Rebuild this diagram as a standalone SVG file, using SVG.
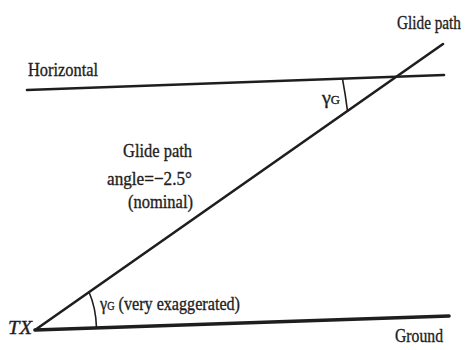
<svg xmlns="http://www.w3.org/2000/svg" width="473" height="350" viewBox="0 0 473 350">
<style>
.ln{stroke:#1e1e1e;fill:none;stroke-linecap:round}
.t{font-family:"Liberation Serif","Times New Roman",serif;fill:#1e1e1e;stroke:#1e1e1e;stroke-width:0.35;font-size:19px}
.s{font-size:12px}
</style>
<rect width="473" height="350" fill="#fff"/>
<g id="connectors">
<line class="ln" x1="27" y1="90" x2="444" y2="75" stroke-width="2.6"/>
<line class="ln" x1="35" y1="330" x2="443" y2="44" stroke-width="2.6"/>
<line class="ln" x1="35" y1="330" x2="449" y2="316" stroke-width="3.6"/>
<path class="ln" d="M342.5 78.8 Q345.5 95 347.5 111" stroke-width="1.6"/>
<path class="ln" d="M89 292 Q96 308 96.5 328" stroke-width="1.6"/>
</g>
<g id="horizontal"><text class="t" x="28" y="76" textLength="70" lengthAdjust="spacingAndGlyphs">Horizontal</text></g>
<g id="glide-path-top"><text class="t" x="397" y="29" font-size="18" textLength="64" lengthAdjust="spacingAndGlyphs">Glide path</text></g>
<g id="glide-angle">
<text class="t" x="123" y="157" textLength="69" lengthAdjust="spacingAndGlyphs">Glide path</text>
<text class="t" x="107" y="185" textLength="85" lengthAdjust="spacingAndGlyphs">angle=−2.5°</text>
<text class="t" x="128" y="208" textLength="65" lengthAdjust="spacingAndGlyphs">(nominal)</text>
</g>
<g id="gamma-top"><text class="t" x="322" y="104" font-size="16" textLength="18" lengthAdjust="spacingAndGlyphs">γ<tspan class="s">G</tspan></text></g>
<g id="gamma-bottom"><text class="t" x="100" y="310" textLength="140" lengthAdjust="spacingAndGlyphs">γ<tspan class="s">G</tspan> (very exaggerated)</text></g>
<g id="tx"><text class="t" x="8" y="334" font-size="20" font-style="italic" textLength="24" lengthAdjust="spacingAndGlyphs">TX</text></g>
<g id="ground"><text class="t" x="395" y="342" textLength="48" lengthAdjust="spacingAndGlyphs">Ground</text></g>
</svg>
